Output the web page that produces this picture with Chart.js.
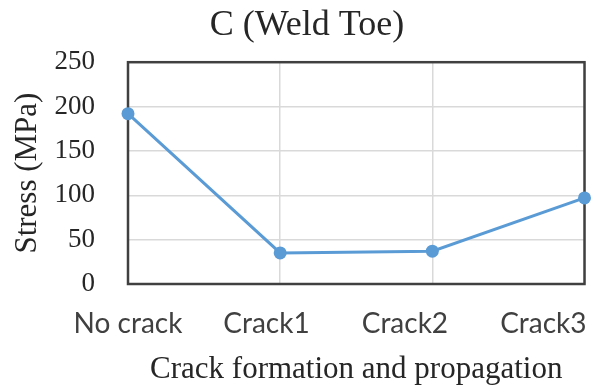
<!DOCTYPE html>
<html>
<head>
<meta charset="utf-8">
<title>C (Weld Toe)</title>
<script src="https://cdn.jsdelivr.net/npm/chart.js@4.4.1/dist/chart.umd.min.js"></script>
<style>
    html, body { margin: 0; padding: 0; background: #fff; }
    #wrap { width: 591px; height: 389px; }
</style>
</head>
<body>
<div id="wrap"><canvas id="stress_chart" width="591" height="389"></canvas></div>
<script>
// Stress at the weld toe for each crack stage
const stages = ['No crack', 'Crack1', 'Crack2', 'Crack3'];
const stress = [192, 35, 37, 97];
const yTicks = [0, 50, 100, 150, 200, 250];

const blue = '#5b9bd5';
const serif = '"Liberation Serif", "Times New Roman", serif';

// Frame round the plot area
const plotFrame = {
    id: 'plotFrame',
    beforeDatasetsDraw(chart) {
        const { ctx, chartArea: a } = chart;
        ctx.save();
        ctx.strokeStyle = '#404040';
        ctx.lineWidth = 2.5;
        ctx.strokeRect(a.left, a.top, a.right - a.left, a.bottom - a.top);
        ctx.restore();
    }
};

// Category labels, pulled in slightly so the last one stays on the canvas
const stageLabels = {
    id: 'stageLabels',
    afterDraw(chart) {
        const { ctx, scales: { x } } = chart;
        const x0 = x.getPixelForValue(0);
        ctx.save();
        ctx.font = '28px Lato, "Liberation Sans", sans-serif';
        ctx.fillStyle = '#404040';
        ctx.textAlign = 'center';
        ctx.textBaseline = 'middle';
        stages.forEach((s, i) => {
            const px = x0 + (x.getPixelForValue(i) - x0) * 0.91;
            ctx.fillText(s, px, 324);
        });
        ctx.restore();
    }
};

new Chart(document.getElementById('stress_chart'), {
    type: 'line',
    data: {
        labels: stages,
        datasets: [{
            data: stress,
            borderColor: blue,
            backgroundColor: blue,
            borderWidth: 3,
            pointRadius: 6.5,
            pointHoverRadius: 6.5,
            pointBackgroundColor: blue,
            pointBorderWidth: 0,
            tension: 0,
            clip: false,
        }]
    },
    options: {
        responsive: false,
        animation: false,
        layout: {
            padding: { left: 26, right: 3, top: 0, bottom: 0 }
        },
        plugins: {
            legend: { display: false },
            tooltip: { enabled: false },
            title: {
                display: true,
                text: 'C (Weld Toe)',
                color: '#262626',
                font: { family: serif, size: 36, weight: 'normal' },
                padding: { top: 4, bottom: 15 }
            }
        },
        scales: {
            x: {
                grid: { color: '#d9d9d9', lineWidth: 1.5, drawTicks: false },
                border: { display: false },
                ticks: { display: false },
                title: {
                    display: true,
                    text: 'Crack formation and propagation',
                    color: '#262626',
                    font: { family: serif, size: 31 },
                    padding: { top: 0, bottom: 1 }
                },
                afterFit(scale) { scale.height = 105; }
            },
            y: {
                min: 0,
                max: 250,
                afterBuildTicks(scale) {
                    scale.ticks = yTicks.map(v => ({ value: v }));
                },
                grid: { color: '#d9d9d9', lineWidth: 1.5, drawTicks: false },
                border: { display: false },
                ticks: {
                    color: '#262626',
                    padding: 33,
                    font: { family: serif, size: 27 }
                },
                title: {
                    display: true,
                    text: 'Stress (MPa)',
                    color: '#262626',
                    font: { family: serif, size: 31 },
                    padding: { top: -17, bottom: 0 }
                },
                afterFit(scale) { scale.width = 102; }
            }
        }
    },
    plugins: [plotFrame, stageLabels]
});
</script>
</body>
</html>
